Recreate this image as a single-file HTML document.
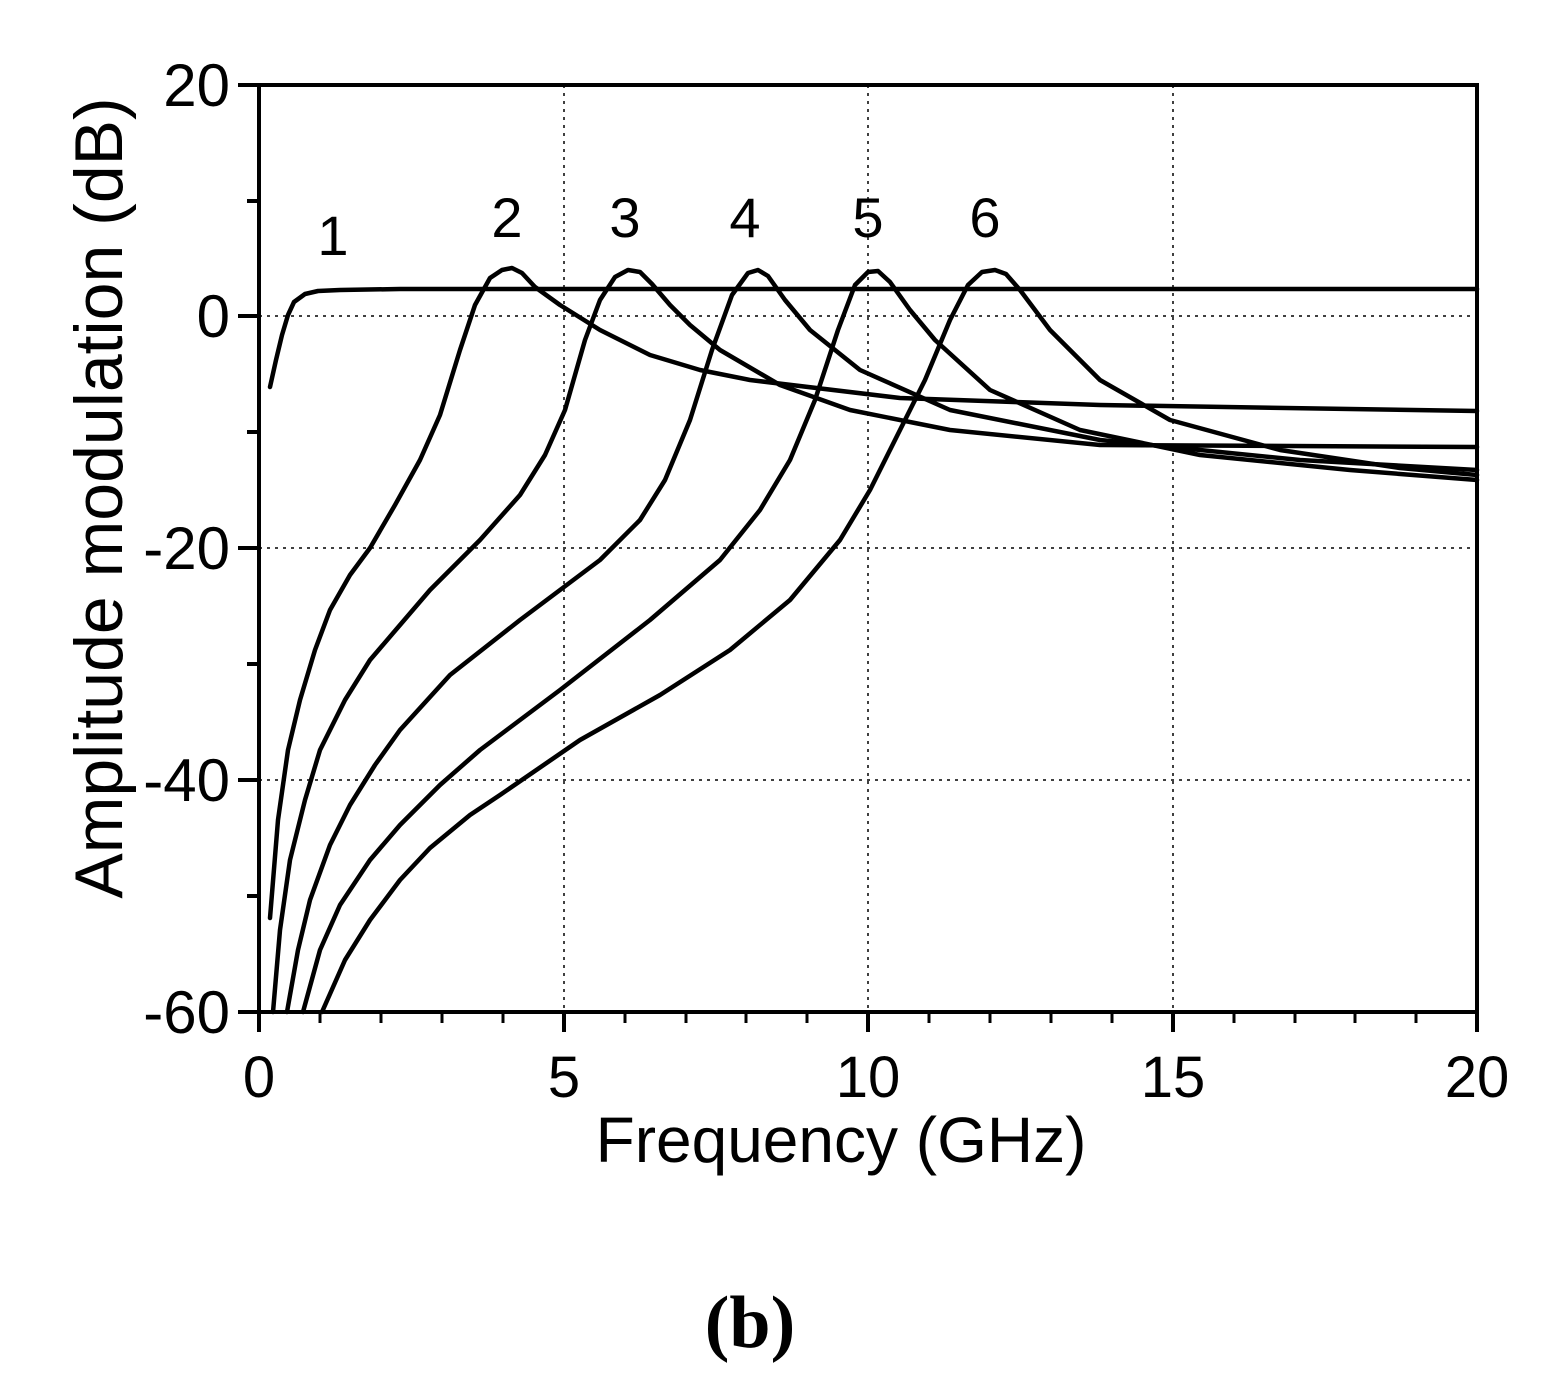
<!DOCTYPE html>
<html><head><meta charset="utf-8"><style>
html,body{margin:0;padding:0;background:#fff;}
svg{display:block;}
text{font-family:"Liberation Sans",Arial,sans-serif;fill:#000;}
</style></head><body>
<svg width="1550" height="1375" viewBox="0 0 1550 1375" xmlns="http://www.w3.org/2000/svg">
<rect width="1550" height="1375" fill="#fff"/>
<g stroke="#000" stroke-width="1.5" stroke-dasharray="3,5">
<line x1="564" y1="85" x2="564" y2="1012"/>
<line x1="868" y1="85" x2="868" y2="1012"/>
<line x1="1173" y1="85" x2="1173" y2="1012"/>
<line x1="259" y1="316" x2="1477" y2="316"/>
<line x1="259" y1="548" x2="1477" y2="548"/>
<line x1="259" y1="780" x2="1477" y2="780"/>
</g>
<rect x="259" y="85" width="1218" height="927" fill="none" stroke="#000" stroke-width="4"/>
<g stroke="#000" stroke-width="4">
<line x1="238" y1="85" x2="259" y2="85"/>
<line x1="238" y1="316" x2="259" y2="316"/>
<line x1="238" y1="548" x2="259" y2="548"/>
<line x1="238" y1="780" x2="259" y2="780"/>
<line x1="238" y1="1012" x2="259" y2="1012"/>
<line x1="247" y1="201" x2="259" y2="201"/>
<line x1="247" y1="432" x2="259" y2="432"/>
<line x1="247" y1="664" x2="259" y2="664"/>
<line x1="247" y1="896" x2="259" y2="896"/>
<line x1="259" y1="1012" x2="259" y2="1032"/>
<line x1="564" y1="1012" x2="564" y2="1032"/>
<line x1="868" y1="1012" x2="868" y2="1032"/>
<line x1="1173" y1="1012" x2="1173" y2="1032"/>
<line x1="1477" y1="1012" x2="1477" y2="1032"/>
</g>
<g stroke="#000" stroke-width="3">
<line x1="320" y1="1012" x2="320" y2="1023"/><line x1="381" y1="1012" x2="381" y2="1023"/><line x1="442" y1="1012" x2="442" y2="1023"/><line x1="503" y1="1012" x2="503" y2="1023"/>
<line x1="625" y1="1012" x2="625" y2="1023"/><line x1="686" y1="1012" x2="686" y2="1023"/><line x1="746" y1="1012" x2="746" y2="1023"/><line x1="807" y1="1012" x2="807" y2="1023"/>
<line x1="929" y1="1012" x2="929" y2="1023"/><line x1="990" y1="1012" x2="990" y2="1023"/><line x1="1051" y1="1012" x2="1051" y2="1023"/><line x1="1112" y1="1012" x2="1112" y2="1023"/>
<line x1="1234" y1="1012" x2="1234" y2="1023"/><line x1="1295" y1="1012" x2="1295" y2="1023"/><line x1="1355" y1="1012" x2="1355" y2="1023"/><line x1="1416" y1="1012" x2="1416" y2="1023"/>
</g>
<g font-size="60" text-anchor="end">
<text x="230" y="106">20</text>
<text x="230" y="337">0</text>
<text x="230" y="569">-20</text>
<text x="230" y="801">-40</text>
<text x="230" y="1033">-60</text>
</g>
<g font-size="58" text-anchor="middle">
<text x="259" y="1097">0</text>
<text x="564" y="1097">5</text>
<text x="868" y="1097">10</text>
<text x="1173" y="1097">15</text>
<text x="1477" y="1097">20</text>
</g>
<text x="841" y="1162" font-size="64" text-anchor="middle">Frequency (GHz)</text>
<text transform="translate(122,498) rotate(-90)" font-size="68" text-anchor="middle">Amplitude modulation (dB)</text>
<text x="750" y="1347" font-size="74" text-anchor="middle" style="font-family:'Liberation Serif',serif;font-weight:bold">(b)</text>
<g font-size="56" text-anchor="middle">
<text x="333" y="255">1</text>
<text x="507" y="237">2</text>
<text x="625" y="237">3</text>
<text x="745" y="237">4</text>
<text x="868" y="237">5</text>
<text x="985" y="237">6</text>
</g>
<g fill="none" stroke="#000" stroke-width="4.5" stroke-linejoin="round" stroke-linecap="round">
<polyline points="270,387 276,360 282,335 288,315 294,302 305,294 318,291 340,290 400,289 1477,289"/>
<polyline points="270,918 278,820 288,750 300,700 315,650 330,610 350,575 370,548 395,505 420,460 440,415 460,350 475,305 490,278 502,270 512,268 522,273 535,287 560,305 600,330 650,355 700,370 750,380 900,398 1100,405 1477,411"/>
<polyline points="273,1012 280,930 290,860 305,800 320,750 345,700 370,660 400,625 430,590 480,540 520,495 545,455 565,410 585,340 600,300 615,277 628,270 640,272 652,284 670,305 690,325 720,350 780,385 850,410 950,430 1100,445 1477,447"/>
<polyline points="287,1012 298,950 310,900 330,845 350,805 375,765 400,730 450,675 520,620 600,560 640,520 665,480 690,420 712,350 732,295 748,273 758,270 768,276 785,300 810,330 860,370 950,410 1100,440 1300,460 1477,470"/>
<polyline points="303,1012 320,950 340,905 370,860 400,825 440,785 480,750 560,690 650,620 720,560 760,510 790,460 815,400 838,330 855,285 868,272 878,271 890,282 910,310 935,340 990,390 1080,430 1200,455 1350,470 1477,480"/>
<polyline points="322,1012 345,960 370,920 400,880 430,848 470,815 500,795 580,740 660,695 730,650 790,600 840,540 870,490 900,430 925,380 950,320 968,285 982,272 995,270 1006,274 1020,290 1050,330 1100,380 1170,420 1280,450 1400,468 1477,475"/>
</g>
</svg>
</body></html>
